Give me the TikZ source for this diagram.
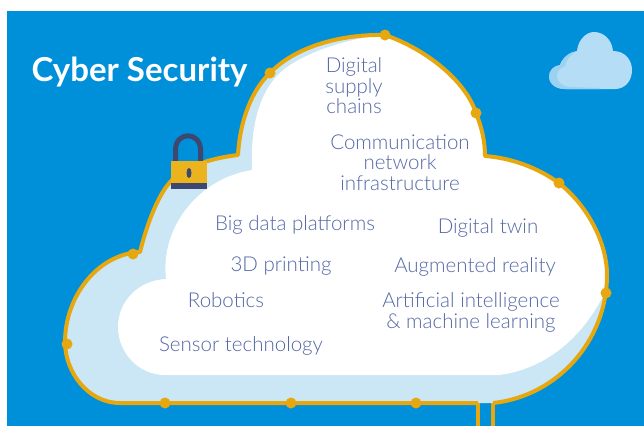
\documentclass[tikz,border=0pt]{standalone}
\usepackage{fontspec}
\setmainfont{Lato}
\newfontfamily\lightfont{Lato Light}
\definecolor{skyblue}{HTML}{0090DA}
\definecolor{paleblue}{HTML}{CBE6F5}
\definecolor{ringorange}{HTML}{E7A70F}
\definecolor{lockyellow}{HTML}{EBB41E}
\definecolor{lockdark}{HTML}{3C4870}
\definecolor{textblue}{HTML}{5568A6}
\definecolor{puffblue}{HTML}{B5DDF5}
\definecolor{puffedge}{HTML}{9CD2F1}
\newcommand{\cloudline}{(478,403) -- (120,403)
    .. controls (88,403) and (65,372) .. (65,342)
    .. controls (65,296) and (98,254) .. (140,252)
    .. controls (145,232) and (156,196) .. (172,180)
    .. controls (186,166) and (212,158) .. (238,155)
    .. controls (240,120) and (252,90) .. (270,73)
    .. controls (296,46) and (342,34) .. (385,35)
    .. controls (428,50) and (466,82) .. (476,113)
    .. controls (482,128) and (485,142) .. (485,156)
    .. controls (512,158) and (538,168) .. (559,183)
    .. controls (590,208) and (607,245) .. (607,275)
    .. controls (607,340) and (558,396) .. (493,403)}
\begin{document}
\begin{tikzpicture}[x=1pt, y=-1pt,
    ringdot/.style={circle, minimum size=11pt, inner sep=0pt, fill=ringorange},
    ringline/.style={draw=ringorange, line width=4pt, line join=round},
    stubline/.style={draw=ringorange, line width=3.6pt},
    cloudtext/.style={text=textblue, align=center, font=\fontsize{20.5}{20.4}\selectfont\lightfont}
]
    \useasboundingbox (0,0) rectangle (644,426);
    \fill[skyblue] (7,11) rectangle (644,426);

    % little cloud
    \fill[puffblue] (565,89) .. controls (553,89) and (549,81) .. (549,77)
        .. controls (549,71) and (553,66) .. (560,65)
        .. controls (563,57) and (570,52) .. (577,51)
        .. controls (578,40) and (586,32) .. (594,32)
        .. controls (604,32) and (612,40) .. (613,51)
        .. controls (625,51) and (632,60) .. (632,70)
        .. controls (632,81) and (625,89) .. (615,89) -- cycle;
    \fill[puffedge] (565,89) .. controls (553,89) and (549,81) .. (549,77)
        .. controls (549,71) and (553,66) .. (560,65)
        .. controls (563,57) and (570,52) .. (577,51)
        .. controls (570,55) and (566,60) .. (565,66)
        .. controls (559,68) and (557,72) .. (557,76)
        .. controls (557,82) and (562,86) .. (570,87)
        -- (600,88) -- (600,89) -- cycle;

    % big cloud
    \fill[paleblue] \cloudline -- cycle;
    \begin{scope}
        \clip \cloudline -- cycle;
        \fill[white] (165,375) .. controls (138,375) and (118,352) .. (118,327)
            .. controls (118,300) and (140,280) .. (166,279)
            .. controls (160,226) and (200,178) .. (252,170)
            .. controls (250,120) and (262,85) .. (287,67)
            .. controls (312,50) and (350,38) .. (385,35)
            -- (644,35) -- (644,280) -- (606,290)
            .. controls (590,325) and (555,368) .. (499,375) -- cycle;
    \end{scope}
    \draw[ringline] \cloudline;

    \coordinate (stubA) at (478,426);
    \coordinate (stubB) at (493,426);
    \coordinate (bendA) at (478,403);
    \coordinate (bendB) at (493,403);
    \draw[stubline] (bendA) -- (stubA);
    \draw[stubline] (bendB) -- (stubB);

    \node[ringdot] at (270,73) (dotA) {};
    \node[ringdot] at (385,35) (dotB) {};
    \node[ringdot] at (476,113) (dotC) {};
    \node[ringdot] at (559,183) (dotD) {};
    \node[ringdot] at (606,293) (dotE) {};
    \node[ringdot] at (416,403) (dotF) {};
    \node[ringdot] at (291,403) (dotG) {};
    \node[ringdot] at (165,403) (dotH) {};
    \node[ringdot] at (67,344) (dotI) {};
    \node[ringdot] at (133,254) (dotJ) {};

    % padlock
    \draw[lockdark, line width=5pt] (175.5,162) -- (175.5,150)
        .. controls (175.5,131) and (200.5,131) .. (200.5,150) -- (200.5,162);
    \fill[lockyellow] (171,161) rectangle (207,184);
    \fill[lockdark] (171,183) rectangle (207,189);
    \fill[lockdark] (189,173) ellipse (2.5 and 5);

    \node[text=white, font=\fontsize{33}{35}\selectfont\bfseries] at (139.5,72) (title) {Cyber Security};

    \node[cloudtext] at (354,86) (supply) {Digital\\supply\\chains};
    \node[cloudtext] at (400,162.5) (network) {Communication\\network\\infrastructure};
    \node[cloudtext] at (295,224.5) (bigdata) {Big data platforms};
    \node[cloudtext] at (488,227.5) (twin) {Digital twin};
    \node[cloudtext] at (281,266.5) (printing) {3D printing};
    \node[cloudtext] at (475,266.5) (reality) {Augmented reality};
    \node[cloudtext] at (226,300.5) (robotics) {Robotics};
    \node[cloudtext] at (471,312.5) (machine) {Artificial intelligence\\\& machine learning};
    \node[cloudtext] at (241,345.5) (sensor) {Sensor technology};
\end{tikzpicture}
\end{document}
